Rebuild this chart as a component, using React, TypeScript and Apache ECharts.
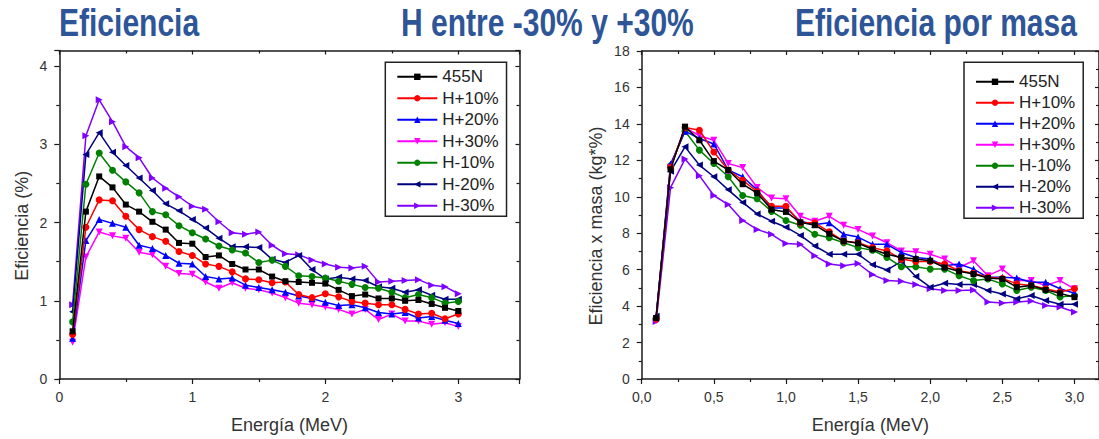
import React, { useEffect, useRef } from 'react';
import * as echarts from 'echarts';

const energy = [0.1, 0.2, 0.3, 0.4, 0.5, 0.6, 0.7, 0.8, 0.9, 1.0, 1.1, 1.2, 1.3, 1.4, 1.5, 1.6, 1.7, 1.8, 1.9, 2.0, 2.1, 2.2, 2.3, 2.4, 2.5, 2.6, 2.7, 2.8, 2.9, 3.0];

const seriesNames = ['455N', 'H+10%', 'H+20%', 'H+30%', 'H-10%', 'H-20%', 'H-30%'];
const titles = ['Eficiencia', 'H entre -30% y +30%', 'Eficiencia por masa'];

// Eficiencia (%)
const eff455N = [0.61, 2.14, 2.59, 2.45, 2.23, 2.14, 2.01, 1.91, 1.74, 1.73, 1.56, 1.58, 1.47, 1.40, 1.40, 1.31, 1.25, 1.24, 1.23, 1.22, 1.14, 1.06, 1.08, 1.03, 1.03, 1.00, 1.01, 0.96, 0.91, 0.87];
const effHp10 = [0.57, 1.94, 2.29, 2.28, 2.08, 1.91, 1.82, 1.76, 1.63, 1.58, 1.47, 1.44, 1.37, 1.28, 1.27, 1.23, 1.24, 1.08, 1.04, 1.09, 1.05, 0.99, 0.97, 0.95, 0.95, 0.89, 0.83, 0.84, 0.77, 0.83];
const effHp20 = [0.52, 1.77, 2.04, 1.99, 1.94, 1.71, 1.67, 1.58, 1.48, 1.47, 1.31, 1.28, 1.29, 1.20, 1.17, 1.14, 1.11, 1.06, 1.03, 0.98, 0.94, 0.95, 0.91, 0.85, 0.83, 0.85, 0.78, 0.80, 0.75, 0.71];
const effHp30 = [0.47, 1.56, 1.88, 1.83, 1.80, 1.62, 1.59, 1.44, 1.35, 1.34, 1.24, 1.16, 1.23, 1.16, 1.14, 1.10, 1.04, 0.97, 0.95, 0.92, 0.89, 0.83, 0.89, 0.76, 0.83, 0.74, 0.74, 0.70, 0.72, 0.67];
const effHm10 = [0.73, 2.49, 2.89, 2.67, 2.52, 2.38, 2.14, 2.10, 1.96, 1.87, 1.79, 1.70, 1.65, 1.61, 1.49, 1.52, 1.44, 1.32, 1.31, 1.29, 1.25, 1.21, 1.17, 1.16, 1.11, 1.04, 1.08, 1.04, 0.97, 0.99];
const effHm20 = [0.86, 2.87, 3.15, 2.90, 2.73, 2.57, 2.41, 2.24, 2.15, 2.04, 1.93, 1.80, 1.69, 1.69, 1.68, 1.53, 1.49, 1.58, 1.40, 1.28, 1.30, 1.28, 1.26, 1.18, 1.16, 1.11, 1.14, 1.07, 1.02, 1.02];
const effHm30 = [0.95, 3.11, 3.57, 3.29, 2.97, 2.83, 2.57, 2.44, 2.33, 2.21, 2.17, 2.01, 1.87, 1.85, 1.88, 1.71, 1.60, 1.59, 1.52, 1.47, 1.43, 1.42, 1.44, 1.24, 1.25, 1.26, 1.27, 1.20, 1.18, 1.09];

// Eficiencia x masa (kg*%)
const mas455N = [3.35, 11.5, 13.85, 13.1, 11.96, 11.47, 10.69, 10.2, 9.3, 9.17, 8.6, 8.44, 7.97, 7.57, 7.45, 7.12, 6.85, 6.67, 6.58, 6.49, 6.12, 5.91, 5.76, 5.54, 5.49, 5.04, 5.13, 4.89, 4.7, 4.49];
const masHp10 = [3.3, 11.6, 13.8, 13.65, 12.46, 11.47, 10.9, 10.29, 9.48, 9.48, 8.57, 8.57, 8.08, 7.57, 7.48, 7.21, 7.03, 6.58, 6.45, 6.45, 6.31, 5.94, 5.8, 5.58, 5.52, 5.22, 5.13, 4.95, 4.77, 4.95];
const masHp20 = [3.4, 11.8, 13.6, 13.2, 12.9, 11.47, 11.1, 10.38, 9.39, 9.39, 8.66, 8.48, 8.57, 7.94, 7.79, 7.39, 7.39, 6.94, 6.67, 6.58, 6.22, 6.31, 6.03, 5.58, 5.58, 5.54, 5.31, 5.31, 4.95, 4.71];
const masHp30 = [3.2, 11.6, 13.8, 13.35, 13.1, 11.83, 11.6, 10.51, 9.93, 9.89, 8.93, 8.66, 8.93, 8.44, 8.21, 7.85, 7.48, 7.03, 6.99, 6.85, 6.58, 6.12, 6.49, 5.67, 6.03, 5.4, 5.4, 5.13, 5.4, 4.95];
const masHm10 = [3.3, 11.7, 13.6, 12.56, 11.83, 11.1, 10.07, 9.89, 9.2, 8.7, 8.44, 7.94, 7.75, 7.48, 7.21, 7.07, 6.67, 6.16, 6.16, 6.03, 6.03, 5.67, 5.4, 5.49, 5.22, 4.86, 5.04, 4.86, 4.5, 4.58];
const masHm20 = [3.45, 11.4, 12.74, 11.74, 11.1, 10.38, 9.69, 9.06, 8.66, 8.33, 7.88, 7.3, 6.85, 6.85, 6.85, 6.27, 5.98, 6.45, 5.62, 5.04, 5.25, 5.18, 5.18, 4.86, 4.67, 4.4, 4.58, 4.31, 4.1, 4.1];
const masHm30 = [3.15, 10.5, 12.07, 11.16, 10.07, 9.57, 8.7, 8.21, 7.94, 7.43, 7.39, 6.76, 6.31, 6.22, 6.34, 5.73, 5.4, 5.36, 5.18, 4.95, 4.86, 4.86, 4.89, 4.22, 4.17, 4.22, 4.28, 4.04, 3.95, 3.68];

const effData = [eff455N, effHp10, effHp20, effHp30, effHm10, effHm20, effHm30];
const masData = [mas455N, masHp10, masHp20, masHp30, masHm10, masHm20, masHm30];

const colors = ['#000000', '#FF0000', '#0000FF', '#FF00FF', '#008000', '#000080', '#8000FF'];
const symbols = [
  'rect',
  'circle',
  'triangle',
  'path://M0,0L10,0L5,9Z',
  'circle',
  'path://M0,5L9,0L9,10Z',
  'path://M0,0L9,5L0,10Z',
];

const FONT = '"Liberation Sans", Arial, sans-serif';
const AXIS = '#1a1a1a';
const TITLE_BLUE = '#2E5597';

function xAxisCfg(gridIndex: number, max: number, interval: number, top: boolean, fmt?: (v: number) => string, name?: string) {
  return {
    type: 'value',
    gridIndex,
    position: top ? 'top' : 'bottom',
    min: 0,
    max,
    interval,
    name: name || '',
    nameLocation: 'middle',
    nameGap: 37,
    nameTextStyle: { color: '#333', fontSize: 18, fontFamily: FONT },
    axisLine: { show: true, onZero: false, lineStyle: { color: AXIS, width: 1.5 } },
    axisTick: { show: true, inside: top, length: top ? 4 : 5, lineStyle: { color: AXIS, width: 1.2 } },
    minorTick: { show: true, splitNumber: 2, length: 3, lineStyle: { color: AXIS, width: 1.2 } },
    axisLabel: {
      show: !top,
      showMaxLabel: false,
      color: '#333',
      fontSize: 14,
      fontFamily: FONT,
      margin: 11,
      formatter: fmt,
    },
    splitLine: { show: false },
  };
}

function yAxisCfg(gridIndex: number, max: number, interval: number, right: boolean, name?: string, nameGap?: number) {
  return {
    type: 'value',
    gridIndex,
    position: right ? 'right' : 'left',
    min: 0,
    max,
    interval,
    name: name || '',
    nameLocation: 'middle',
    nameGap: nameGap || 30,
    nameRotate: 90,
    nameTextStyle: { color: '#333', fontSize: 18, fontFamily: FONT, padding: [0, 22, 0, 0] },
    axisLine: { show: true, onZero: false, lineStyle: { color: AXIS, width: 1.5 } },
    axisTick: { show: true, inside: right, length: right ? 4 : 5, lineStyle: { color: AXIS, width: 1.2 } },
    minorTick: { show: true, splitNumber: 2, length: 3, lineStyle: { color: AXIS, width: 1.2 } },
    axisLabel: {
      show: !right,
      showMaxLabel: max % interval === 0,
      color: '#333',
      fontSize: 14,
      fontFamily: FONT,
      margin: 12,
    },
    splitLine: { show: false },
  };
}

function buildSeries(data: number[][], axisIndex: number) {
  return data.map((vals, i) => ({
    type: 'line',
    name: seriesNames[i],
    xAxisIndex: axisIndex,
    yAxisIndex: axisIndex,
    data: vals.map((v, k) => [energy[k], v]),
    symbol: symbols[i],
    symbolSize: symbols[i] === 'rect' ? 6 : 7,
    showSymbol: true,
    color: colors[i],
    lineStyle: { width: 1.5, color: colors[i] },
    itemStyle: { color: colors[i] },
    z: 10 - i,
  }));
}

export default function App() {
  const ref = useRef<HTMLDivElement>(null);

  useEffect(() => {
    if (!ref.current) return;
    const chart = echarts.init(ref.current, undefined, { renderer: 'svg' });
    const legendBase = {
      orient: 'vertical',
      data: seriesNames,
      itemHeight: 8,
      borderColor: '#222',
      borderWidth: 1.5,
      backgroundColor: '#fff',
      textStyle: { color: '#222', fontSize: 17, fontFamily: FONT, lineHeight: 17 },
      selectedMode: false,
    };
    chart.setOption({
      animation: false,
      backgroundColor: '#fff',
      grid: [
        { left: 59.3, top: 50.5, width: 460.2, height: 332.8 },
        { left: 641.7, top: 51, width: 458.7, height: 331.7 },
      ],
      xAxis: [
        xAxisCfg(0, 3.46, 1, false, undefined, 'Energía (MeV)'),
        xAxisCfg(0, 3.46, 1, true),
        xAxisCfg(1, 3.17, 0.5, false, (v: number) => v.toFixed(1).replace('.', ','), 'Energía (MeV)'),
        xAxisCfg(1, 3.17, 0.5, true),
      ],
      yAxis: [
        yAxisCfg(0, 4.2, 1, false, 'Eficiencia (%)', 28),
        yAxisCfg(0, 4.2, 1, true),
        yAxisCfg(1, 18, 2, false, 'Eficiencia x masa (kg*%)', 37),
        yAxisCfg(1, 18, 2, true),
      ],
      legend: [
        { ...legendBase, left: 385.3, top: 62.3, itemWidth: 40, itemGap: 4.5, padding: [6, 8, 2, 11] },
        { ...legendBase, left: 964, top: 62.3, itemWidth: 38, itemGap: 4, padding: [11, 8, 2, 11] },
      ],
      graphic: [
        { type: 'text', x: 59, y: 23, scaleX: 0.79, style: { text: titles[0], font: 'bold 38px ' + FONT, fill: TITLE_BLUE, verticalAlign: 'middle', align: 'left' } },
        { type: 'text', x: 401, y: 23, scaleX: 0.79, style: { text: titles[1], font: 'bold 38px ' + FONT, fill: TITLE_BLUE, verticalAlign: 'middle', align: 'left' } },
        { type: 'text', x: 795, y: 23, scaleX: 0.79, style: { text: titles[2], font: 'bold 38px ' + FONT, fill: TITLE_BLUE, verticalAlign: 'middle', align: 'left' } },
      ],
      series: [...buildSeries(effData, 0), ...buildSeries(masData, 2)],
    });
    return () => chart.dispose();
  }, []);

  return <div ref={ref} style={{ position: 'fixed', left: 0, top: 0, width: 1099, height: 439, background: '#fff' }} />;
}
